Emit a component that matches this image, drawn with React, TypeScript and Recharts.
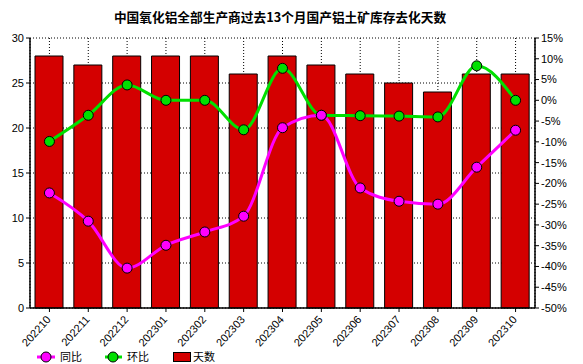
import React from 'react';
import { ComposedChart, Bar, Line, XAxis, YAxis, CartesianGrid } from 'recharts';

const months = ['202210','202211','202212','202301','202302','202303','202304','202305','202306','202307','202308','202309','202310'];
const days = [28, 27, 28, 28, 28, 26, 28, 27, 26, 25, 24, 26, 26];
const yoy = [-22.3, -29.1, -40.4, -34.9, -31.7, -27.9, -6.6, -3.6, -21.1, -24.3, -25.0, -16.1, -7.2];
const mom = [-9.9, -3.6, 3.7, 0, 0, -7.1, 7.7, -3.6, -3.7, -3.8, -4.0, 8.3, 0];
const leftTicks = [0, 5, 10, 15, 20, 25, 30];
const rightTicks = [-50, -45, -40, -35, -30, -25, -20, -15, -10, -5, 0, 5, 10, 15];

const data = months.map((m, i) => ({ month: m, days: days[i], yoy: yoy[i], mom: mom[i] }));

const FONT = '"Liberation Sans", Arial, sans-serif';
const CJK = '"Noto Sans CJK SC", sans-serif';

const XTick = (props: any) => {
  const { x, y, payload } = props;
  return (
    <g transform={`translate(${x + 2},${y + 6}) rotate(-48)`}>
      <text x={0} y={0} textAnchor="end" fontSize={11} fontFamily={FONT} fill="#000">
        {payload.value}
      </text>
    </g>
  );
};

const dotStyle = (color: string) => ({ r: 5, fill: color, stroke: '#000', strokeWidth: 1 });

export default function App() {
  return (
    <div style={{ position: 'absolute', left: 0, top: 0, width: 583, height: 364, background: '#fff' }}>
      <div style={{ position: 'absolute', left: 0, top: 8, width: 560, textAlign: 'center', fontFamily: CJK, fontWeight: 'bold', fontSize: 12.7, lineHeight: '18px', color: '#000' }}>
        中国氧化铝全部生产商过去13个月国产铝土矿库存去化天数
      </div>
      <ComposedChart width={583} height={364} data={data} margin={{ top: 38, right: 0, bottom: 16, left: 0 }}>
        <CartesianGrid yAxisId="left" stroke="#000" strokeDasharray="1 2" horizontal vertical />
        <XAxis dataKey="month" height={40} tick={<XTick />} tickLine={{ stroke: '#000' }} tickSize={4} axisLine={{ stroke: '#000', strokeWidth: 1.5 }} interval={0} />
        <YAxis yAxisId="left" width={30} domain={[0, 30]} ticks={leftTicks} tickSize={4} tickLine={{ stroke: '#000' }} axisLine={{ stroke: '#000', strokeWidth: 1.5 }} tick={{ fontSize: 11, fill: '#000', fontFamily: FONT }} tickMargin={2} />
        <YAxis yAxisId="right" orientation="right" width={48} domain={[-50, 15]} ticks={rightTicks} tickSize={4} tickLine={{ stroke: '#000' }} axisLine={{ stroke: '#000', strokeWidth: 1.5 }} tick={{ fontSize: 11, fill: '#000', fontFamily: FONT, textAnchor: 'start' }} tickMargin={2} tickFormatter={(v: number) => `${v}%`} />
        <Bar yAxisId="left" dataKey="days" fill="#d40000" stroke="#000" strokeWidth={1} barSize={28} isAnimationActive={false} />
        <Line yAxisId="right" type="monotone" dataKey="mom" stroke="#00e000" strokeWidth={3} dot={dotStyle('#00e000')} activeDot={false} isAnimationActive={false} />
        <Line yAxisId="right" type="monotone" dataKey="yoy" stroke="#ff00ff" strokeWidth={3} dot={dotStyle('#ff00ff')} activeDot={false} isAnimationActive={false} />
      </ComposedChart>
      <div style={{ position: 'absolute', left: 0, top: 347, width: 583, height: 17, fontFamily: CJK, fontSize: 11, color: '#000' }}>
        <svg width={583} height={17} style={{ position: 'absolute', left: 0, top: 0 }}>
          <line x1={37} y1={10} x2={55} y2={10} stroke="#ff00ff" strokeWidth={3} />
          <circle cx={46} cy={10} r={5} fill="#ff00ff" stroke="#000" />
          <line x1={105} y1={10} x2={122} y2={10} stroke="#00e000" strokeWidth={3} />
          <circle cx={113} cy={10} r={5} fill="#00e000" stroke="#000" />
          <rect x={173.5} y={5.5} width={17} height={9} fill="#d40000" stroke="#000" />
        </svg>
        <span style={{ position: 'absolute', left: 60, top: 1, lineHeight: '17px' }}>同比</span>
        <span style={{ position: 'absolute', left: 127, top: 1, lineHeight: '17px' }}>环比</span>
        <span style={{ position: 'absolute', left: 193, top: 1, lineHeight: '17px' }}>天数</span>
      </div>
    </div>
  );
}
